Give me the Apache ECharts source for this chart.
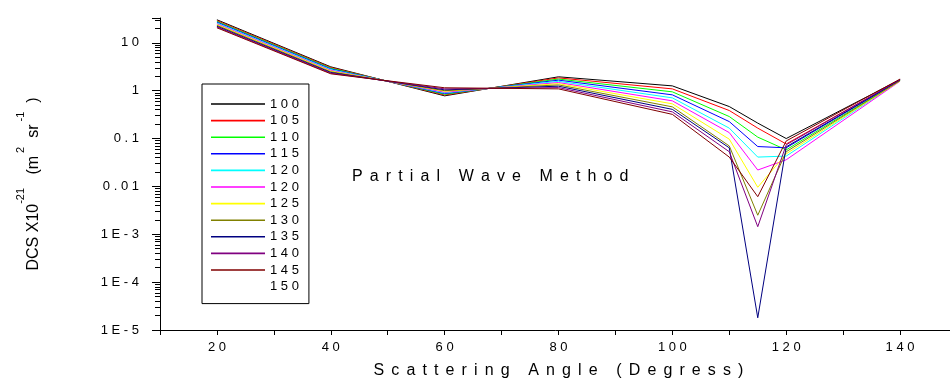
<!DOCTYPE html>
<html>
<head>
<meta charset="utf-8">
<script src="https://cdn.jsdelivr.net/npm/echarts@6/dist/echarts.min.js"></script>
<style>
  html, body { margin: 0; padding: 0; background: #fff; }
  #chart { width: 950px; height: 383px; }
</style>
</head>
<body>
<div id="chart"></div>
<script>
// scattering angles (deg) where every curve has a vertex
const angles = [20, 40, 60, 80, 100, 110, 115, 120, 140]

// DCS values, one array per energy curve
const dcs100 = [30.3, 3.15, 0.78, 1.95, 1.26, 0.466, 0.21, 0.100, 1.70]
const dcs105 = [29.1, 3.05, 0.81, 1.85, 1.09, 0.385, 0.165, 0.077, 1.68]
const dcs110 = [28.0, 2.95, 0.84, 1.75, 0.946, 0.288, 0.107, 0.058, 1.62]
const dcs115 = [27.0, 2.85, 0.87, 1.66, 0.818, 0.226, 0.068, 0.064, 1.66]
const dcs120a = [25.9, 2.75, 0.90, 1.57, 0.708, 0.165, 0.041, 0.043, 1.60]
const dcs120b = [24.9, 2.65, 0.93, 1.48, 0.613, 0.133, 0.022, 0.036, 1.58]
const dcs125 = [24.0, 2.57, 0.97, 1.40, 0.531, 0.097, 0.0096, 0.048, 1.60]
const dcs130 = [23.1, 2.48, 1.00, 1.32, 0.459, 0.070, 0.0025, 0.053, 1.62]
const dcs135 = [22.2, 2.40, 1.04, 1.24, 0.407, 0.064, 0.000018, 0.067, 1.68]
const dcs140 = [21.4, 2.32, 1.09, 1.16, 0.361, 0.053, 0.00144, 0.074, 1.70]
const dcs145 = [20.6, 2.25, 1.15, 1.09, 0.320, 0.041, 0.0061, 0.089, 1.75]
const dcs150 = []

const legendLabels = ['100', '105', '110', '115', '120', '120', '125', '130', '135', '140', '145', '150']
const curveColors = ['#000000', '#ff0000', '#00ff00', '#0000ff', '#00ffff', '#ff00ff',
  '#ffff00', '#808000', '#000080', '#800080', '#800000', '#ffffff']
const curves = [dcs100, dcs105, dcs110, dcs115, dcs120a, dcs120b, dcs125, dcs130,
  dcs135, dcs140, dcs145, dcs150]

// tick labels, letter spaced like the original
const xTickValues = [20, 40, 60, 80, 100, 120, 140]
const xTickLabels = ['2 0', '4 0', '6 0', '8 0', '1 0 0', '1 2 0', '1 4 0']
const yTickExponents = [-5, -4, -3, -2, -1, 0, 1]
const yTickLabels = ['1 E - 5', '1 E - 4', '1 E - 3', '0 . 0 1', '0 . 1', '1', '1 0']

const FONT = "'Liberation Sans', Arial, sans-serif"
const spaced = (s) => s.split('').join(' ')
// wide letter spacing for the titles: a normal space plus a six-per-em space
const SEP = ' \u2006'
const wide = (s) => s.split(' ').map(w => w.split('').join(SEP)).join(SEP + SEP + ' ')

const chart = echarts.init(document.getElementById('chart'))

const series = curves.map((vals, i) => ({
  name: 's' + i,
  type: 'line',
  symbol: 'none',
  color: curveColors[i],
  lineStyle: { width: 1, color: curveColors[i] },
  data: vals.map((v, j) => [angles[j], v]),
  animation: false
}))

const option = {
  backgroundColor: '#ffffff',
  animation: false,
  grid: { left: 160, right: -7, top: 18, bottom: 53, outerBoundsMode: 'none' },
  legend: {
    orient: 'vertical',
    left: 202,
    top: 84,
    itemWidth: 54,
    itemHeight: 14,
    itemGap: 0.6,
    padding: [12, 10, 9, 9],
    icon: 'path://M0,0 L100,0 L100,3 L0,3 Z',
    borderColor: '#000',
    borderWidth: 1,
    selectedMode: false,
    data: series.map(s => s.name),
    formatter: (name) => spaced(legendLabels[Number(name.slice(1))]),
    textStyle: { fontSize: 13, color: '#000', fontFamily: FONT, lineHeight: 16 }
  },
  xAxis: {
    type: 'value',
    min: 10,
    max: 150,
    interval: 10,
    name: wide('Scattering Angle (Degress)'),
    nameLocation: 'middle',
    nameGap: 33,
    nameTextStyle: { fontSize: 16, color: '#000', fontFamily: FONT },
    axisLine: { lineStyle: { color: '#000', width: 1 } },
    axisTick: { length: 5, lineStyle: { color: '#000' } },
    splitLine: { show: false },
    axisLabel: {
      margin: 11,
      fontSize: 13,
      color: '#000',
      fontFamily: FONT,
      formatter: (v) => {
        const k = xTickValues.indexOf(v)
        return k >= 0 ? xTickLabels[k] : ''
      }
    }
  },
  yAxis: {
    type: 'log',
    logBase: 10,
    min: 1e-5,
    max: 33,
    axisLine: { lineStyle: { color: '#000', width: 1 } },
    axisTick: { length: 8, lineStyle: { color: '#000' } },
    minorTick: { show: true, splitNumber: 9, length: 5, lineStyle: { color: '#000' } },
    splitLine: { show: false },
    axisLabel: {
      margin: 21,
      fontSize: 13,
      color: '#000',
      fontFamily: FONT,
      showMaxLabel: false,
      formatter: (v) => {
        const k = yTickExponents.indexOf(Math.round(Math.log10(v)))
        return k >= 0 ? yTickLabels[k] : ''
      }
    }
  },
  graphic: [
    {
      type: 'text',
      x: 34,
      y: 184,
      rotation: Math.PI / 2,
      style: {
        text: '{m|DCS X10}{s|-21}{m|   (m}{s| 2}{m|  sr}{s| -1}{m|  )}',
        align: 'center',
        verticalAlign: 'middle',
        fill: '#000',
        rich: {
          m: { fontSize: 16, fontFamily: FONT, lineHeight: 38, fill: '#000' },
          s: { fontSize: 11, fontFamily: FONT, lineHeight: 11, verticalAlign: 'top', fill: '#000' }
        }
      }
    },
    {
      type: 'text',
      x: 352,
      y: 177,
      style: {
        text: wide('Partial Wave Method'),
        verticalAlign: 'middle',
        fontSize: 16,
        fontFamily: FONT,
        fill: '#000'
      }
    }
  ],
  series
}

chart.setOption(option)
</script>
</body>
</html>
